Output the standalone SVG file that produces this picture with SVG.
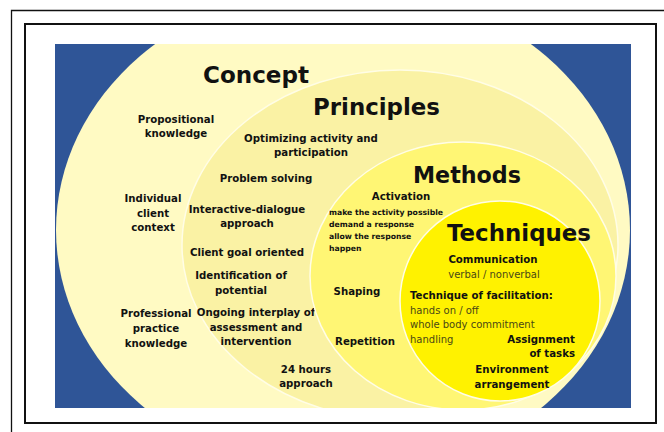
<svg xmlns="http://www.w3.org/2000/svg" width="664" height="432" viewBox="0 0 664 432">
<defs>
<clipPath id="bg"><rect x="55" y="44" width="576" height="364"/></clipPath>
<style>
.t{font-family:"DejaVu Sans","Verdana",sans-serif;fill:#111;}
.title{font-size:23px;font-weight:bold;}
.b{font-size:10.2px;font-weight:bold;text-anchor:middle;}
.bl{font-size:10.2px;font-weight:bold;}
.s{font-size:7.7px;font-weight:bold;}
.r{font-size:10px;fill:#4a4816;}
.ring{stroke:#FFFDE6;stroke-width:1.5;}
</style>
</defs>
<rect x="0" y="0" width="664" height="432" fill="#ffffff"/>
<path d="M11.5 432 V10.5 H664" fill="none" stroke="#111" stroke-width="1.3"/>
<rect x="25" y="24" width="631" height="399" fill="#ffffff" stroke="#111" stroke-width="2"/>
<rect x="55" y="44" width="576" height="364" fill="#2F5597"/>
<g clip-path="url(#bg)">
<g id="concept">
<ellipse cx="343" cy="230" rx="287" ry="246" fill="#FFFAC3"/>
<text class="t title" x="203" y="83" textLength="106" lengthAdjust="spacingAndGlyphs">Concept</text>
<text class="t b" x="176" y="123">Propositional</text>
<text class="t b" x="176" y="137">knowledge</text>
<text class="t b" x="153" y="202">Individual</text>
<text class="t b" x="153" y="217">client</text>
<text class="t b" x="153" y="231">context</text>
<text class="t b" x="156" y="317">Professional</text>
<text class="t b" x="156" y="332">practice</text>
<text class="t b" x="156" y="347">knowledge</text>
</g>
<g id="principles">
<ellipse class="ring" cx="400" cy="245" rx="218" ry="175" fill="#FAF2A4"/>
<text class="t title" x="313" y="115" textLength="127" lengthAdjust="spacingAndGlyphs">Principles</text>
<text class="t b" x="311" y="142">Optimizing activity and</text>
<text class="t b" x="311" y="156">participation</text>
<text class="t b" x="266" y="182">Problem solving</text>
<text class="t b" x="247" y="213">Interactive-dialogue</text>
<text class="t b" x="247" y="227">approach</text>
<text class="t b" x="247" y="256">Client goal oriented</text>
<text class="t b" x="241" y="279">Identification of</text>
<text class="t b" x="241" y="294">potential</text>
<text class="t b" x="256" y="316">Ongoing interplay of</text>
<text class="t b" x="256" y="331">assessment and</text>
<text class="t b" x="256" y="345">intervention</text>
<text class="t b" x="306" y="373">24 hours</text>
<text class="t b" x="306" y="387">approach</text>
</g>
<g id="methods">
<ellipse class="ring" cx="463" cy="276" rx="153" ry="134" fill="#FFF674"/>
<text class="t title" x="413" y="183" textLength="108" lengthAdjust="spacingAndGlyphs">Methods</text>
<text class="t b" x="401" y="200">Activation</text>
<text class="t s" x="329" y="215">make the activity possible</text>
<text class="t s" x="329" y="227">demand a response</text>
<text class="t s" x="329" y="239">allow the response</text>
<text class="t s" x="329" y="251">happen</text>
<text class="t b" x="357" y="295">Shaping</text>
<text class="t b" x="365" y="345">Repetition</text>
</g>
<g id="techniques">
<circle class="ring" cx="500" cy="301" r="100" fill="#FFF200"/>
<text class="t title" x="447" y="241" textLength="144" lengthAdjust="spacingAndGlyphs">Techniques</text>
<text class="t b" x="493" y="263">Communication</text>
<text class="t r" x="494" y="278" text-anchor="middle">verbal / nonverbal</text>
<text class="t bl" x="410" y="299">Technique of facilitation:</text>
<text class="t r" x="410" y="314">hands on / off</text>
<text class="t r" x="410" y="328">whole body commitment</text>
<text class="t r" x="410" y="343">handling</text>
<text class="t bl" x="575" y="343" text-anchor="end">Assignment</text>
<text class="t bl" x="575" y="357" text-anchor="end">of tasks</text>
<text class="t b" x="512" y="373">Environment</text>
<text class="t b" x="512" y="388">arrangement</text>
</g>
</g>
</svg>
